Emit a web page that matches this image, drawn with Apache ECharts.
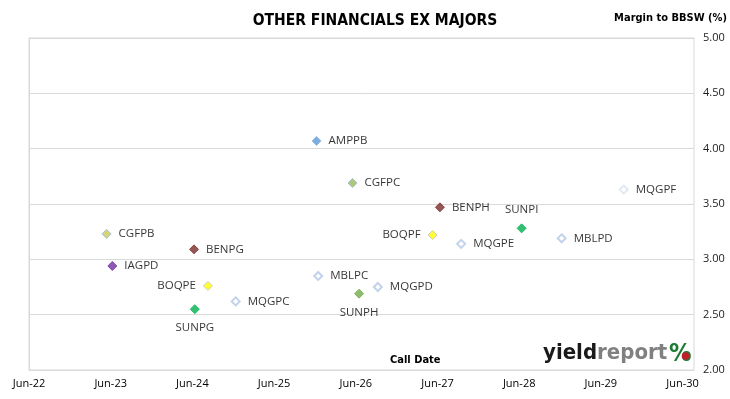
<!DOCTYPE html>
<html><head><meta charset="utf-8">
<script src="https://cdn.jsdelivr.net/npm/echarts@6/dist/echarts.min.js"></script>
<style>html,body{margin:0;padding:0;background:#fff}#c{width:730px;height:399px}</style>
</head><body><div id="c"></div>
<script>
// Call dates as decimal years, margins in %
const names   = ['AMPPB','CGFPC','CGFPB','BENPG','IAGPD','BOQPE','MQGPC','SUNPG','MBLPC','SUNPH','MQGPD','BENPH','BOQPF','MQGPE','SUNPI','MBLPD','MQGPF'];
const callDates = [2026.02,2026.46,2023.45,2024.52,2023.52,2024.69,2025.03,2024.53,2026.04,2026.54,2026.77,2027.53,2027.44,2027.79,2028.53,2029.02,2029.78];
const margins = [4.07,3.69,3.23,3.09,2.94,2.76,2.62,2.55,2.85,2.69,2.75,3.47,3.22,3.14,3.28,3.19,3.63];
const fills   = ['#5B9BD5','#9BBB59','#C9C95A','#7B2C2C','#7030A0','#FFFF00','#FFFFFF','#00B050','#FFFFFF','#70AD47','#FFFFFF','#7B2C2C','#FFFF00','#FFFFFF','#00B050','#FFFFFF','#FFFFFF'];
const borders = ['#8DB4E2','#95B3D7','#95B3D7','#7B2C2C','#7030A0','#BFBFBF','#B4C7E7','#00B050','#B4C7E7','#70AD47','#B4C7E7','#7B2C2C','#BFBFBF','#B4C7E7','#00B050','#B4C7E7','#DAE3F3'];
const labelPos = ['right','right','right','right','right','left','right','bottom','right','bottom','right','right','left','right','top','right','right'];
const xTickLabels = ['Jun-22','Jun-23','Jun-24','Jun-25','Jun-26','Jun-27','Jun-28','Jun-29','Jun-30'];
const yTicks = [2.00,2.50,3.00,3.50,4.00,4.50,5.00];
const axisStart = 2022.5;

const chart = echarts.init(document.getElementById('c'), null, {renderer:'canvas'});
const data = names.map((n,i)=>({
  value:[callDates[i]-axisStart, margins[i]],
  name:n,
  symbolSize: fills[i]==='#FFFFFF'?8:9,
  itemStyle:{color:fills[i], borderColor:borders[i], borderWidth: fills[i]==='#FFFFFF'?2:1},
  label:{position:labelPos[i], distance: labelPos[i]==='bottom'?8:(labelPos[i]==='top'?8:7)}
}));
const narrow = 'DejaVu Sans Condensed, Liberation Sans';
chart.setOption({
  animation:false,
  title:{text:'OTHER FINANCIALS EX MAJORS', left:370, top:8, textAlign:'center',
    textStyle:{fontFamily:narrow, fontSize:15.5, fontWeight:'bold', color:'#000'}},
  grid:{left:29, right:36, top:38, bottom:29, outerBoundsMode:'none', containLabel:false, show:true, borderColor:'#D9D9D9', borderWidth:1},
  xAxis:{type:'value', min:0, max:8.14, interval:1,
    axisLine:{show:true, lineStyle:{color:'#D9D9D9'}},
    axisTick:{show:false}, splitLine:{show:false},
    axisLabel:{margin:8, color:'#000', fontFamily:'Open Sans', fontSize:11,
      formatter:v=> Number.isInteger(v) && v < xTickLabels.length ? xTickLabels[v] : ''}
  },
  yAxis:{type:'value', position:'right', min:yTicks[0], max:yTicks[yTicks.length-1], interval:0.5,
    axisLine:{show:true, lineStyle:{color:'#D9D9D9'}},
    axisTick:{show:true, length:4, lineStyle:{color:'#D9D9D9'}},
    splitLine:{lineStyle:{color:'#D9D9D9'}},
    axisLabel:{margin:9, color:'#222', fontFamily:'Open Sans', fontSize:11, formatter:v=>v.toFixed(2)}
  },
  series:[{type:'scatter', symbol:'diamond', data:data,
    label:{show:true, formatter:p=>p.name, color:'#000', fontFamily:'Open Sans', fontSize:11.5}}],
  graphic:[
    {type:'text', left:390, top:355, style:{text:'Call Date', font:'bold 11px '+narrow, fill:'#000'}},
    {type:'text', right:3, top:13, style:{text:'Margin to BBSW (%)', font:'bold 11px '+narrow, fill:'#000'}},
    {type:'text', left:543, top:342, style:{
    text:'{a|yield}{b|report}',
    rich:{a:{fontFamily:narrow, fontWeight:'bold', fontSize:22, fill:'#1a1a1a'},
          b:{fontFamily:narrow, fontWeight:'bold', fontSize:22, fill:'#808080'}}}},
    {type:'text', left:669, top:342, style:{text:'%', font:'bold 25px '+narrow, fill:'#1E7B34'}},
    {type:'circle', shape:{cx:685.5, cy:356, r:3.8}, style:{fill:'#C0202A'}, z:100}
  ]
});
</script></body></html>
